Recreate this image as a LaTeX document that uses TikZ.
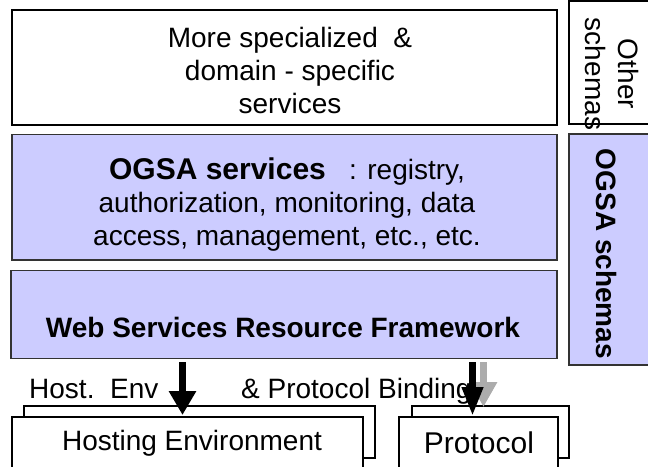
\documentclass[tikz,border=0pt]{standalone}
\usepackage{fontspec}
\setmainfont{Liberation Sans}
\usetikzlibrary{arrows.meta}
\definecolor{lav}{HTML}{CCCCFF}
\definecolor{edge}{HTML}{333333}
\begin{document}
\begin{tikzpicture}[x=1pt,y=-1pt,
  box/.style={draw=black,line width=1.1pt,fill=white,rectangle,anchor=north west,inner sep=0pt,outer sep=0pt},
  lbox/.style={box,draw=edge,fill=lav},
  txt/.style={font=\fontsize{28}{33}\selectfont,align=center,inner sep=0pt},
  btxt/.style={font=\fontsize{28}{33}\selectfont\bfseries,align=center,inner sep=0pt},
  bigarrow/.style={line width=7pt,-{Triangle[width=26pt,length=24pt]}},
  narrowarrow/.style={line width=7pt,-{Triangle[width=20pt,length=29pt]}},
  grayarrow/.style={line width=7.5pt,draw=gray!65,-{Triangle[width=26pt,length=25pt,fill=gray!65]}}]
\useasboundingbox (0,0) rectangle (648,466);
\begin{scope}
\clip (0,0) rectangle (648,466);
% top layers
\node[box,minimum width=545pt,minimum height=115pt] (top) at (12,10) {};
\node[lbox,minimum width=545pt,minimum height=125.5pt] (ogsa) at (12,134.5) {};
\node[lbox,minimum width=546pt,minimum height=88pt] (wsrf) at (11,270.5) {};
\node[box,minimum width=85pt,minimum height=123pt] (other) at (569,1) {};
\node[lbox,minimum width=85pt,minimum height=231pt] (ogsasch) at (569,134) {};
% texts
\node[txt] (toptxt) at (290,70) {More specialized\ \ \&\\domain - specific\\services};
\node[txt] (ogsatxt) at (287,205) {{\fontsize{30}{33}\selectfont\bfseries OGSA services}\ \ \ : registry,\\authorization, monitoring, data\\access, management, etc., etc.};
\node[btxt] (wsrftxt) at (283,327) {Web Services Resource Framework};
\node[txt,rotate=-90] (othertxt) at (612,74) {Other\\schemas};
\node[btxt,rotate=-90] (ogsaschtxt) at (607,254) {OGSA schemas};
% bottom boxes
\node[box,minimum width=351pt,minimum height=52pt] (hostback) at (24,406) {};
\node[box,minimum width=351pt,minimum height=70pt] (hostfront) at (12,417) {};
\node[box,minimum width=157pt,minimum height=52pt] (protback) at (412,406) {};
\node[box,minimum width=159pt,minimum height=70pt] (protfront) at (399,417) {};
\node[txt] (hosttxt) at (192,443) {Hosting Environment};
\node[txt,font=\fontsize{30}{33}\selectfont] (prottxt) at (479,443) {Protocol};
\node[txt,anchor=base west] (bind1) at (29,398) {Host.\ \ Env};
\node[txt,anchor=base west] (bind2) at (241,398) {\& Protocol Bindings};
% arrows
\coordinate (ax1) at (182.5,0);
\coordinate (ax2) at (472.5,0);
\coordinate (ax3) at (483.5,0);
\draw[grayarrow,shorten <=3.5pt,shorten >=-1pt] (wsrf.south -| ax3) -- (protback.north -| ax3);
\draw[bigarrow,shorten <=3.5pt,shorten >=2pt] (wsrf.south -| ax1) -- (hostfront.north -| ax1);
\draw[narrowarrow,shorten <=3.5pt,shorten >=1pt] (wsrf.south -| ax2) -- (protfront.north -| ax2);
\end{scope}
\end{tikzpicture}
\end{document}
